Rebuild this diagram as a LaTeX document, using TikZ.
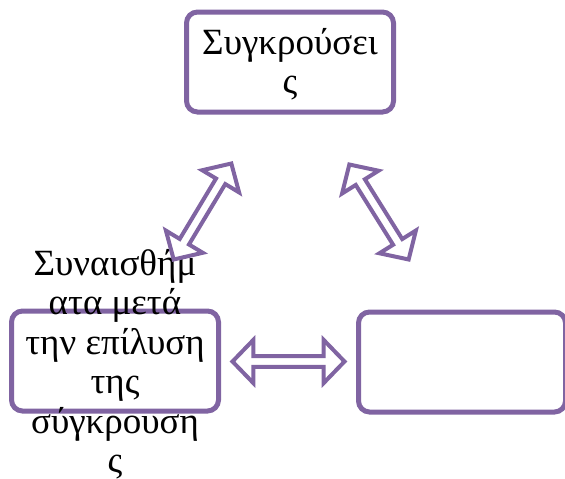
\documentclass[tikz,border=0pt]{standalone}
\usepackage{fontspec}
\setmainfont{Liberation Serif}
\usetikzlibrary{positioning, calc, shapes.arrows}
\definecolor{cyclepurple}{HTML}{8064A2}
\tikzset{
x=1pt, y=-1pt, % one unit is one pixel of the reference, y pointing down
stage/.style={draw=cyclepurple, line width=5pt, rounded corners=11pt, fill=white, minimum width=207pt, minimum height=100pt, inner sep=0pt}, % the three rounded boxes
stagetext/.style={font=\fontsize{37}{39.5}\selectfont, align=center, inner sep=0pt}, % text set over a box
link/.style={double arrow, draw=cyclepurple, line width=4pt, fill=white, minimum height=112pt, minimum width=43pt, double arrow head extend=6pt, double arrow tip angle=92, inner sep=0pt}, % hollow two-headed arrows
}
\begin{document}
\begin{tikzpicture}
            \useasboundingbox (0,0) rectangle (565,479);
            \node[stage] (conflicts) at (290,62) {};
            \node[stage] (feelings) at (115,361) {};
            \node[stage] (empty) at (462,362) {};
            \node[stagetext] (conflictstext) at ($(conflicts.center)+(0,2)$) {Συγκρούσει\\ς};
            \node[stagetext] (feelingstext) at ($(feelings.center)+(0,3)$) {Συναισθήμ\\ατα μετά\\την επίλυση\\της\\σύγκρουση\\ς};
            \node[link, rotate=59] (leftlink) at ($(conflicts.south)!0.5!(feelings.north)$) {};
            \node[link, rotate=-58] (rightlink) at ($(conflicts.south)!0.5!(empty.north)+(3,0)$) {};
            \node[link] (bottomlink) at ($(feelings.east)!0.5!(empty.west)$) {};
        \end{tikzpicture}
\end{document}
